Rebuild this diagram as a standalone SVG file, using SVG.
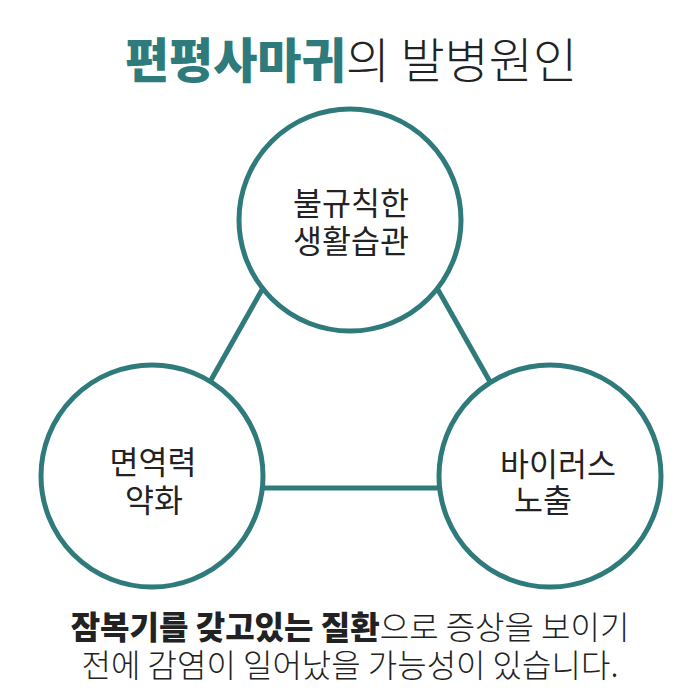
<svg xmlns="http://www.w3.org/2000/svg" width="700" height="700" viewBox="0 0 700 700">
<style>
.c{fill:#fff;stroke:#2F7A7B;stroke-width:5}
.ln{stroke:#2F7A7B;stroke-width:5;fill:none}
.t{font-family:"Noto Sans CJK KR","Noto Sans",sans-serif;fill:#222}
.n{font-size:31.5px;font-weight:400}
</style>
<rect width="700" height="700" fill="#fff"/>
<text class="t" x="351" y="78" text-anchor="middle" font-size="48"><tspan font-weight="900" fill="#2F7A7B">편평사마귀</tspan><tspan font-weight="300">의 발병원인</tspan></text>
<g id="connectors">
<line class="ln" x1="350" y1="134" x2="150" y2="488"/>
<line class="ln" x1="350" y1="134" x2="550" y2="488"/>
<line class="ln" x1="150" y1="488" x2="550" y2="488"/>
</g>
<g id="node-top">
<circle class="c" cx="350" cy="220" r="111"/>
<text class="t n" x="351" y="215" text-anchor="middle">불규칙한</text>
<text class="t n" x="351" y="253" text-anchor="middle">생활습관</text>
</g>
<g id="node-left">
<circle class="c" cx="152" cy="476" r="111"/>
<text class="t n" x="153" y="474" text-anchor="middle">면역력</text>
<text class="t n" x="154" y="512" text-anchor="middle">약화</text>
</g>
<g id="node-right">
<circle class="c" cx="550" cy="476" r="111"/>
<text class="t n" x="558" y="476" text-anchor="middle">바이러스</text>
<text class="t n" x="543" y="512" text-anchor="middle">노출</text>
</g>
<text class="t" x="350" y="639" text-anchor="middle" font-size="32"><tspan font-weight="900">잠복기를 갖고있는 질환</tspan><tspan font-weight="300">으로 증상을 보이기</tspan></text>
<text class="t" x="350" y="677" text-anchor="middle" font-size="32" font-weight="300">전에 감염이 일어났을 가능성이 있습니다.</text>
</svg>
